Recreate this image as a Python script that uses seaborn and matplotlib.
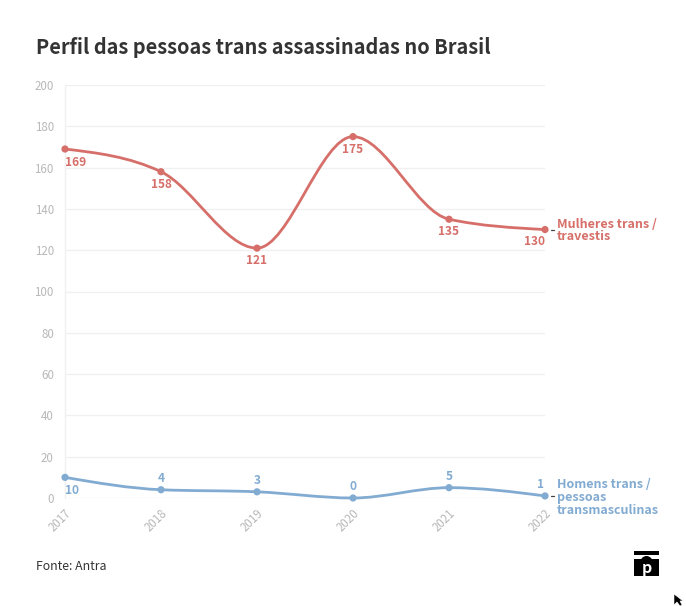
import matplotlib

matplotlib.use("Agg")
import matplotlib.pyplot as plt
import numpy as np
import pandas as pd
import seaborn as sns
from matplotlib.patches import PathPatch, Polygon, Rectangle, Wedge
from matplotlib.path import Path

years = [2017, 2018, 2019, 2020, 2021, 2022]
mulheres = [169, 158, 121, 175, 135, 130]
homens = [10, 4, 3, 0, 5, 1]
y_ticks = [0, 20, 40, 60, 80, 100, 120, 140, 160, 180, 200]

RED = "#d66f69"
BLUE = "#82abd2"
GRID = "#f0f0f0"
TICK = "#b8b8b8"
DARK = "#333333"
W, H = 686, 606

sns.set_theme(style="white")
plt.rcParams["font.family"] = ["Noto Sans CJK SC", "DejaVu Sans"]


def px(x, y):
    # pixel position (from top left) to figure fraction
    return x / W, 1 - y / H


def smooth_path(xs, ys):
    # monotone cubic bezier through the data points
    xs = np.asarray(xs, dtype=float)
    ys = np.asarray(ys, dtype=float)
    h = np.diff(xs)
    d = np.diff(ys) / h
    m = np.zeros(len(xs))
    for i in range(1, len(xs) - 1):
        if d[i - 1] * d[i] > 0:
            p = (d[i - 1] * h[i] + d[i] * h[i - 1]) / (h[i - 1] + h[i])
            m[i] = (np.sign(d[i - 1]) + np.sign(d[i])) * min(
                abs(d[i - 1]), abs(d[i]), 0.5 * abs(p)
            )
    m[0] = (3 * d[0] - m[1]) / 2
    m[-1] = (3 * d[-1] - m[-2]) / 2
    verts = [(xs[0], ys[0])]
    codes = [Path.MOVETO]
    for i in range(len(xs) - 1):
        t = h[i] / 3
        verts += [
            (xs[i] + t, ys[i] + m[i] * t),
            (xs[i + 1] - t, ys[i + 1] - m[i + 1] * t),
            (xs[i + 1], ys[i + 1]),
        ]
        codes += [Path.CURVE4] * 3
    return Path(verts, codes)


df = pd.DataFrame(
    {
        "ano": years * 2,
        "valor": mulheres + homens,
        "perfil": ["Mulheres"] * len(years) + ["Homens"] * len(years),
    }
)

fig = plt.figure(figsize=(W / 100, H / 100), dpi=100, facecolor="white")
ax = fig.add_axes([65 / W, 1 - 498 / H, 480 / W, 413 / H])

for serie, cor in [(mulheres, RED), (homens, BLUE)]:
    ax.add_patch(
        PathPatch(
            smooth_path(years, serie),
            fill=False,
            edgecolor=cor,
            lw=2.0,
            clip_on=False,
            zorder=3,
        )
    )

sns.scatterplot(
    data=df,
    x="ano",
    y="valor",
    hue="perfil",
    palette={"Mulheres": RED, "Homens": BLUE},
    s=27,
    linewidth=0,
    legend=False,
    clip_on=False,
    zorder=4,
    ax=ax,
)

ax.set_xlim(years[0], years[-1])
ax.set_ylim(0, 200)
ax.set_xlabel("")
ax.set_ylabel("")
ax.set_xticks(years)
ax.set_yticks(y_ticks)
ax.set_xticklabels(
    years,
    rotation=45,
    ha="right",
    va="top",
    rotation_mode="anchor",
    fontsize=8.3,
    color=TICK,
)
ax.tick_params(axis="y", length=6, width=1, color=GRID, labelsize=8.3, labelcolor=TICK, pad=2)
ax.tick_params(axis="x", length=5, width=1, color=GRID, pad=1)
ax.grid(axis="y", color=GRID, lw=1)
ax.grid(axis="x", visible=False)
ax.set_axisbelow(True)
sns.despine(ax=ax, left=False, right=True, top=True, bottom=True)
ax.spines["left"].set_color(GRID)
ax.spines["left"].set_linewidth(1)

# value labels: offset in pixels from the point
off_m = [(0, 13), (0, 13), (0, 12), (0, 13), (0, 12), (-10, 12)]
off_h = [(0, 13), (0, -11), (0, -11), (0, -11), (0, -11), (-4, -11)]
for i, ano in enumerate(years):
    for serie, off, cor in [(mulheres, off_m, RED), (homens, off_h, BLUE)]:
        ha = "left" if i == 0 else "center"
        ax.annotate(
            str(serie[i]),
            (ano, serie[i]),
            xytext=(off[i][0] * 0.72, -off[i][1] * 0.72),
            textcoords="offset points",
            ha=ha,
            va="center",
            fontsize=8.6,
            fontweight="bold",
            color=cor,
            annotation_clip=False,
        )

# series labels with short dash
for y_val, cor, linhas, ys in [
    (mulheres[-1], RED, ["Mulheres trans /", "travestis"], [224.5, 236.5]),
    (homens[-1], BLUE, ["Homens trans /", "pessoas", "transmasculinas"], [485, 498, 510]),
]:
    ax.plot(
        [years[-1] + 6 / 96, years[-1] + 9 / 96],
        [y_val, y_val],
        color="#444444",
        lw=0.9,
        clip_on=False,
    )
    for linha, yp in zip(linhas, ys):
        fig.text(*px(557, yp), linha, color=cor, fontsize=9.0, fontweight="bold", va="center", ha="left")

fig.text(*px(36, 47), "Perfil das pessoas trans assassinadas no Brasil", fontsize=14.35, fontweight="bold", color=DARK, va="center", ha="left")
fig.text(*px(36, 566), "Fonte: Antra", fontsize=8.85, color=DARK, va="center", ha="left")

# logo
logo = fig.add_axes([634 / W, 1 - 576 / H, 25 / W, 25 / H])
logo.set_xlim(0, 25)
logo.set_ylim(25, 0)
logo.axis("off")
logo.add_patch(Rectangle((0, 0), 25, 25, color="black", lw=0))
logo.add_patch(Rectangle((0, 4), 25, 4, color="white", lw=0))
logo.add_patch(Wedge((12.5, 11), 6, 180, 360, color="black", lw=0))
logo.text(12.5, 21.5, "p", color="white", fontsize=11.5, fontweight="bold", ha="center", va="baseline")

# mouse pointer from the screenshot
fig.add_artist(
    Polygon(
        [px(674, 594), px(674, 605), px(677, 602), px(680, 606), px(682, 605), px(680, 601), px(683, 601)],
        closed=True,
        facecolor="black",
        edgecolor="white",
        lw=0.4,
        transform=fig.transFigure,
    )
)

fig.savefig("out.png", dpi=100)
